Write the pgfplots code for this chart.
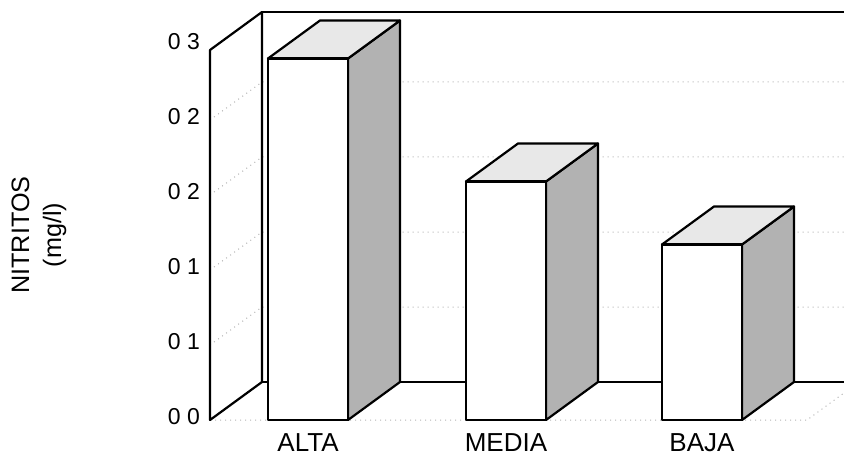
\documentclass[border=0pt]{standalone}
\usepackage{fontspec}
\setmainfont{Liberation Sans}
\usepackage{pgfplots}
\pgfplotsset{compat=1.18}

\tikzset{
  frame/.style={line width=1.1pt, black, line join=round},
  grid line/.style={dotted, black!30, line width=0.5pt},
  sideface/.style={draw=black, line width=1.1pt, line join=round, fill=black!30},
  topface/.style={draw=black, line width=1.1pt, line join=round, fill=black!9},
  frontface/.style={draw=black, line width=1.1pt, line join=round, fill=white},
}

% Oblique depth of the 3-D boxes: 52 units across, 0.025333 units up
\newcommand{\depthx}{52}
\newcommand{\depthv}{0.025333}
\newcommand{\halfwidth}{40}

% One box: #1 = centre of the category, #2 = nitrite value
\newcommand{\cuboid}[2]{%
  \pgfmathsetmacro\cbL{#1-\halfwidth}%
  \pgfmathsetmacro\cbR{#1+\halfwidth}%
  \pgfmathsetmacro\cbLb{#1-\halfwidth+\depthx}%
  \pgfmathsetmacro\cbRb{#1+\halfwidth+\depthx}%
  \pgfmathsetmacro\cbV{#2}%
  \pgfmathsetmacro\cbVb{#2+\depthv}%
  \addplot[sideface] coordinates {(\cbR,0) (\cbRb,\depthv) (\cbRb,\cbVb) (\cbR,\cbV)} --cycle;
  \addplot[topface] coordinates {(\cbL,\cbV) (\cbR,\cbV) (\cbRb,\cbVb) (\cbLb,\cbVb)} --cycle;
  \addplot[frontface] coordinates {(\cbL,0) (\cbR,0) (\cbR,\cbV) (\cbL,\cbV)} --cycle;
}

\begin{document}
\begin{tikzpicture}
\path[use as bounding box] (0,0) rectangle (422pt,227.5pt);
\begin{axis}[
  at={(105pt,17.5pt)}, anchor=south west,
  x={(0.5pt,0pt)}, y={(0pt,750pt)},
  xmin=210, xmax=844, ymin=0, ymax=0.25,
  clip=false,
  axis lines*=left,
  axis line style={draw=none},
  major tick length=0pt,
  xtick={308,506,702},
  xticklabels={ALTA,MEDIA,BAJA},
  ytick={0,0.05,0.1,0.15,0.2,0.25},
  yticklabels={0 0,0 1,0 1,0 2,0 2,0 3},
  yticklabel style={font=\fontsize{11.5}{13}\selectfont, xshift=-1.5pt, yshift=1.5pt},
  xticklabel style={font=\fontsize{13}{15}\selectfont, yshift=-3.5pt},
  ylabel={NITRITOS\\(mg/l)},
  ylabel style={at={(axis cs:39,0.1233)}, anchor=center, align=center,
    font=\fontsize{12.6}{16}\selectfont},
]
% floor front edge and its right-hand corner
\draw[grid line] (210,0) -- (807,0) -- (859,0.025333);
% grid lines across the left wall and the back wall
\draw[grid line] (210,0.05) -- (262,0.075333) -- (844,0.075333);
\draw[grid line] (210,0.10) -- (262,0.125333) -- (844,0.125333);
\draw[grid line] (210,0.15) -- (262,0.175333) -- (844,0.175333);
\draw[grid line] (210,0.20) -- (262,0.225333) -- (844,0.225333);
% left wall, back wall top and floor back edge
\draw[frame] (210,0) -- (262,0.025333) -- (262,0.272) -- (210,0.246667) -- cycle;
\draw[frame] (262,0.272) -- (844,0.272);
\draw[frame] (262,0.025333) -- (844,0.025333);

% boxes: ALTA, MEDIA, BAJA
\cuboid{308}{0.241}
\cuboid{506}{0.159}
\cuboid{702}{0.117}
\end{axis}
\end{tikzpicture}
\end{document}
